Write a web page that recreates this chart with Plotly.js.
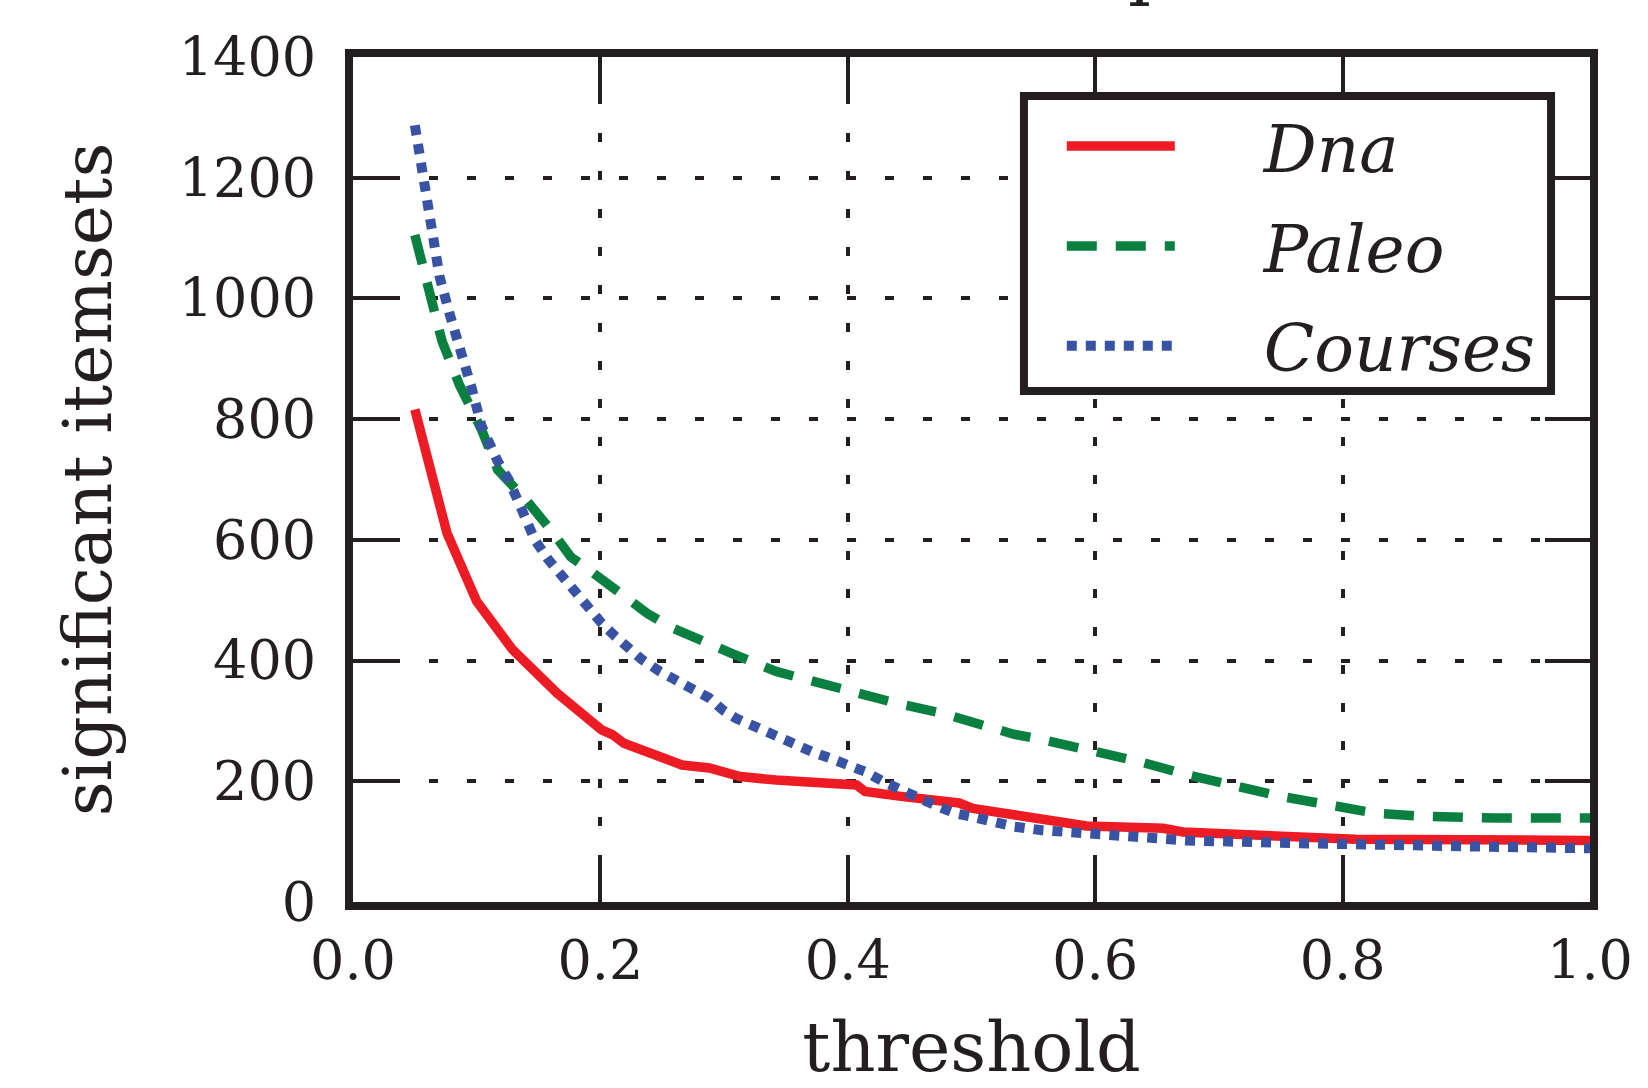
<!DOCTYPE html>
<html><head><meta charset="utf-8">
<script src="https://cdn.plot.ly/plotly-3.0.1.min.js"></script>
<style>html,body{margin:0;padding:0;background:#fff;overflow:hidden}#chart{width:1648px;height:1088px}</style>
</head><body><div id="chart"></div>
<script>
const seriesNames = ['Dna', 'Paleo', 'Courses'];

const dnaX = [0.05, 0.076, 0.10, 0.129, 0.165, 0.201, 0.21, 0.219, 0.266, 0.288, 0.313, 0.342, 0.407, 0.414, 0.443, 0.49, 0.501, 0.547, 0.593, 0.655, 0.671, 0.81, 1.0];
const dnaY = [816, 611, 498, 418, 346, 285, 277, 263, 227, 222, 208, 202, 194, 183, 175, 164, 155, 141, 126, 122, 116, 104, 102];

const paleoX = [0.05, 0.062, 0.072, 0.086, 0.104, 0.117, 0.14, 0.162, 0.176, 0.191, 0.205, 0.221, 0.238, 0.256, 0.27, 0.306, 0.342, 0.382, 0.4, 0.44, 0.476, 0.512, 0.534, 0.557, 0.597, 0.635, 0.674, 0.712, 0.75, 0.789, 0.827, 0.866, 0.923, 1.0];
const paleoY = [1105, 1006, 929, 857, 782, 716, 666, 611, 572, 550, 528, 506, 478, 456, 443, 412, 382, 360, 351, 329, 313, 291, 278, 269, 252, 233, 211, 192, 175, 161, 147, 142, 139, 139];

const coursesX = [0.05, 0.055, 0.059, 0.065, 0.07, 0.078, 0.088, 0.096, 0.104, 0.111, 0.117, 0.126, 0.136, 0.147, 0.158, 0.169, 0.18, 0.191, 0.201, 0.212, 0.223, 0.234, 0.248, 0.263, 0.274, 0.288, 0.299, 0.31, 0.328, 0.342, 0.357, 0.371, 0.386, 0.4, 0.414, 0.429, 0.443, 0.458, 0.473, 0.487, 0.501, 0.516, 0.534, 0.557, 0.597, 0.635, 0.674, 0.75, 0.827, 0.904, 1.0];
const coursesY = [1287, 1224, 1160, 1097, 1036, 975, 912, 851, 788, 755, 730, 699, 650, 600, 567, 539, 512, 484, 462, 440, 420, 401, 382, 365, 357, 338, 318, 304, 288, 274, 263, 249, 238, 227, 216, 199, 188, 172, 158, 147, 141, 133, 125, 119, 114, 106, 102, 98, 93, 92, 89];

const xTicks = [0, 0.2, 0.4, 0.6, 0.8, 1.0];
const xTickText = ['0.0', '0.2', '0.4', '0.6', '0.8', '1.0'];
const yTicks = [0, 200, 400, 600, 800, 1000, 1200, 1400];
const yTickText = ['0', '200', '400', '600', '800', '1000', '1200', '1400'];

const ink = '#231f20';
const serif = 'DejaVu Serif';
const pad = '\u00a0\u00a0\u00a0\u00a0';

const traces = [
  {x: dnaX, y: dnaY, name: pad + seriesNames[0], mode: 'lines', legendgroup: 'a',
   line: {color: '#ed1c24', width: 9.5}},
  {x: paleoX, y: paleoY, name: pad + seriesNames[1], mode: 'lines', legendgroup: 'b',
   line: {color: '#0a8040', width: 9.5, dash: '30px,19px'}},
  {x: coursesX, y: coursesY, name: pad + seriesNames[2], mode: 'lines', legendgroup: 'c',
   line: {color: '#3953a4', width: 10, dash: '10px,9px'}}
];

const axisCommon = {
  showline: true, linewidth: 8, linecolor: ink, mirror: 'allticks',
  ticks: 'inside', ticklen: 45, tickwidth: 4, tickcolor: ink,
  showgrid: true, gridcolor: ink, gridwidth: 4, griddash: '9px,29px',
  zeroline: false,
  tickfont: {family: serif, size: 54, color: ink}
};

const layout = {
  width: 1648, height: 1088,
  paper_bgcolor: '#fff', plot_bgcolor: '#fff',
  margin: {l: 353, r: 58, t: 57, b: 186},
  showlegend: true,
  xaxis: Object.assign({}, axisCommon, {
    range: [0, 1], tickvals: xTicks, ticktext: xTickText,
    ticklabelstandoff: 4,
    title: {text: 'threshold', font: {family: serif, size: 70, color: ink}, standoff: 80}
  }),
  yaxis: Object.assign({}, axisCommon, {
    range: [0, 1400], tickvals: yTicks, ticktext: yTickText,
    ticklabelstandoff: 18,
    title: {text: 'significant itemsets', font: {family: serif, size: 68, color: ink}, standoff: 48}
  }),
  legend: {
    x: 0.573, xanchor: 'left', y: 0.953, yanchor: 'top',
    bgcolor: 'rgba(0,0,0,0)', borderwidth: 0,
    font: {family: serif, size: 66, color: ink, style: 'italic'},
    itemwidth: 108, tracegroupgap: 11
  },
  shapes: [{
    type: 'rect', xref: 'paper', yref: 'paper', layer: 'above',
    x0: 0.5424, x1: 0.9685, y0: 0.6047, y1: 0.9538,
    line: {color: ink, width: 8}, fillcolor: '#fff'
  }],
  annotations: [{
    text: 'p', xref: 'paper', yref: 'paper', x: 0.645, y: 1.0556,
    xanchor: 'center', yanchor: 'bottom', showarrow: false,
    font: {family: serif, size: 72, color: ink}
  }]
};

Plotly.newPlot('chart', traces, layout, {displayModeBar: false, staticPlot: true});
</script></body></html>
